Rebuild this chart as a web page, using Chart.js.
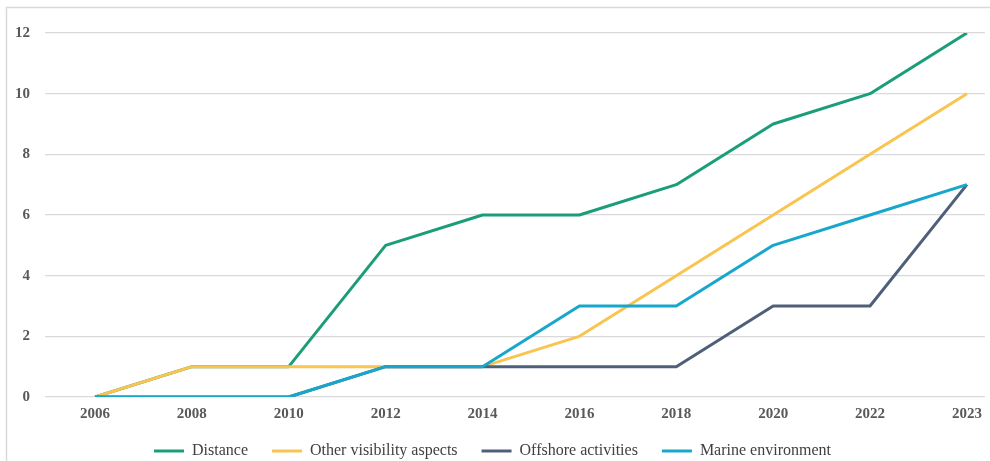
<!DOCTYPE html>
<html>
<head>
<meta charset="utf-8">
<script src="https://cdn.jsdelivr.net/npm/chart.js@4/dist/chart.umd.min.js"></script>
<style>
  html, body { margin: 0; padding: 0; background: #fff; }
  #wrap { width: 990px; height: 461px; position: relative; }
</style>
</head>
<body>
<div id="wrap"><canvas id="chartCanvas"></canvas></div>
<script>
"use strict";

const years = ["2006", "2008", "2010", "2012", "2014", "2016", "2018", "2020", "2022", "2023"];
const distance = [0, 1, 1, 5, 6, 6, 7, 9, 10, 12];
const otherVisibility = [0, 1, 1, 1, 1, 2, 4, 6, 8, 10];
const offshore = [0, 0, 0, 1, 1, 1, 1, 3, 3, 7];
const marine = [0, 0, 0, 1, 1, 3, 3, 5, 6, 7];
const yTicks = [0, 2, 4, 6, 8, 10, 12];

const toPoints = arr => arr.map((v, i) => ({ x: i, y: v }));

// the frame around the chart (only left and top edges are visible)
const framePlugin = {
  id: "frame",
  beforeDraw(chart) {
    const ctx = chart.ctx;
    ctx.save();
    ctx.strokeStyle = "#d9d9d9";
    ctx.lineWidth = 1.5;
    ctx.beginPath();
    ctx.moveTo(6.5, 470);
    ctx.lineTo(6.5, 7.5);
    ctx.lineTo(1000, 7.5);
    ctx.stroke();
    ctx.restore();
  }
};

function makeSet(label, values, color, order) {
  return {
    label: label,
    data: toPoints(values),
    borderColor: color,
    backgroundColor: color,
    borderWidth: 3,
    pointRadius: 0,
    tension: 0,
    borderJoinStyle: "round",
    order: order
  };
}

document.addEventListener("DOMContentLoaded", () => {
  const ctx = document.querySelector("#chartCanvas").getContext("2d");

  new Chart(ctx, {
    type: "line",
    data: {
      datasets: [
        makeSet("Distance", distance, "#1a9d78", 4),
        makeSet("Other visibility aspects", otherVisibility, "#f9c44f", 3),
        makeSet("Offshore activities", offshore, "#4e6079", 2),
        makeSet("Marine environment", marine, "#17a7cc", 1)
      ]
    },
    options: {
      responsive: true,
      maintainAspectRatio: false,
      animation: false,
      layout: { padding: { left: 0, right: 5, top: 33, bottom: -8 } },
      plugins: {
        tooltip: { enabled: false },
        legend: {
          position: "bottom",
          labels: {
            usePointStyle: true,
            pointStyle: "line",
            pointStyleWidth: 30,
            padding: 24,
            color: "#404040",
            font: { family: "'Liberation Serif', serif", size: 16 },
            sort: (a, b) => a.datasetIndex - b.datasetIndex
          }
        }
      },
      scales: {
        x: {
          type: "linear",
          min: -0.516,
          max: 9.186,
          grid: { display: false, drawTicks: false },
          border: { display: false },
          afterBuildTicks: axis => {
            axis.ticks = years.map((_, i) => ({ value: i }));
          },
          afterFit: axis => { axis.height = 22; },
          ticks: {
            padding: 8,
            color: "#595959",
            font: { family: "'Liberation Serif', serif", size: 15, weight: "bold" },
            callback: v => years[v],
            maxRotation: 0,
            autoSkip: false
          }
        },
        y: {
          min: 0,
          max: 12,
          afterBuildTicks: axis => {
            axis.ticks = yTicks.map(v => ({ value: v }));
          },
          afterFit: axis => { axis.width = 45; },
          grid: { color: "#d9d9d9", lineWidth: 1.3, drawTicks: false },
          border: { display: false },
          ticks: {
            padding: 15,
            color: "#595959",
            font: { family: "'Liberation Serif', serif", size: 15, weight: "bold" }
          }
        }
      }
    },
    plugins: [framePlugin]
  });
});
</script>
</body>
</html>
